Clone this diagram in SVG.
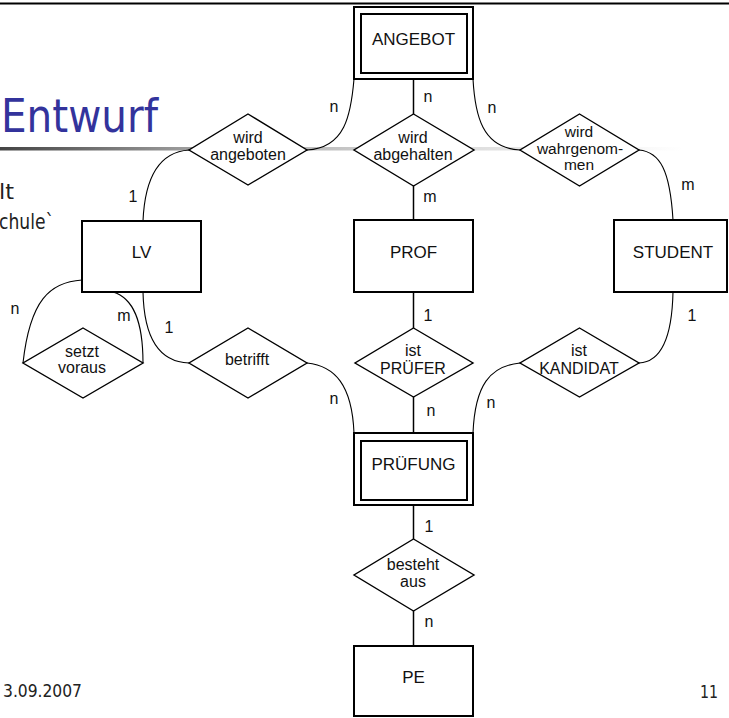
<svg xmlns="http://www.w3.org/2000/svg" width="729" height="718" viewBox="0 0 729 718">
<defs>
<linearGradient id="rule" x1="0" y1="0" x2="683" y2="0" gradientUnits="userSpaceOnUse">
<stop offset="0" stop-color="#444"/>
<stop offset="0.3" stop-color="#a5a5a5"/>
<stop offset="0.6" stop-color="#d4d4d4"/>
<stop offset="1" stop-color="#fff"/>
</linearGradient>
</defs>
<style>
.ent{fill:#fff;stroke:#000;stroke-width:2}
.rel{fill:#fff;stroke:#000;stroke-width:1.4}
.ln{fill:none;stroke:#000;stroke-width:1.5}
.cv{fill:none;stroke:#000;stroke-width:1.1}
.t{font-family:"Liberation Sans",Arial,sans-serif;font-size:17px;fill:#111;text-anchor:middle}
.r{font-family:"Liberation Sans",Arial,sans-serif;font-size:16px;fill:#111;text-anchor:middle}
.lb{font-family:"Liberation Sans",Arial,sans-serif;font-size:16px;fill:#111;text-anchor:middle}
.slide{font-family:"DejaVu Sans Condensed","DejaVu Sans",sans-serif;fill:#222}
</style>
<rect width="729" height="718" fill="#fff"/>
<line x1="0" y1="3.5" x2="729" y2="3.5" stroke="#000" stroke-width="2"/>
<text class="slide" x="1" y="132" font-size="47" style="fill:#33339c" textLength="157" lengthAdjust="spacingAndGlyphs">Entwurf</text>
<rect x="0" y="147" width="683" height="3.5" fill="url(#rule)"/>
<text class="slide" x="-1" y="199" font-size="22" textLength="15" lengthAdjust="spacingAndGlyphs">lt</text>
<text class="slide" x="-1" y="229" font-size="22" textLength="55" lengthAdjust="spacingAndGlyphs">chule`</text>
<text class="slide" x="3" y="697" font-size="17" textLength="79" lengthAdjust="spacingAndGlyphs">3.09.2007</text>
<text class="slide" x="700" y="698" font-size="17" textLength="18" lengthAdjust="spacingAndGlyphs">11</text>

<g id="connectors">
<line class="ln" x1="413.5" y1="79" x2="413.5" y2="114"/>
<line class="ln" x1="413.5" y1="186" x2="413.5" y2="220"/>
<line class="ln" x1="413.5" y1="292" x2="413.5" y2="328"/>
<line class="ln" x1="413.5" y1="397" x2="413.5" y2="433"/>
<line class="ln" x1="413.5" y1="505" x2="413.5" y2="539"/>
<line class="ln" x1="413.5" y1="611" x2="413.5" y2="646"/>
<path class="cv" d="M354,79 C351,115 345,148 307,150"/>
<path class="cv" d="M473,79 C475,115 482,148 520,150"/>
<path class="cv" d="M639,150 C660,152 670,170 673,220"/>
<path class="cv" d="M189,150 C160,152 145,175 143,221"/>
<path class="cv" d="M143,292 C144,340 160,362 189,363"/>
<path class="cv" d="M307,363 C335,366 352,385 354,433"/>
<path class="cv" d="M82,280 C50,282 30,300 23,363"/>
<path class="cv" d="M113,292 C133,298 143,320 143,363"/>
<path class="cv" d="M673,292 C672,340 660,362 639,363"/>
<path class="cv" d="M520,363 C490,366 475,385 473,433"/>
<text class="lb" x="428" y="102">n</text>
<text class="lb" x="430" y="202">m</text>
<text class="lb" x="334" y="112">n</text>
<text class="lb" x="492" y="113">n</text>
<text class="lb" x="688" y="190">m</text>
<text class="lb" x="133" y="202">1</text>
<text class="lb" x="169" y="333">1</text>
<text class="lb" x="15" y="314">n</text>
<text class="lb" x="124" y="321">m</text>
<text class="lb" x="334" y="404">n</text>
<text class="lb" x="428" y="321">1</text>
<text class="lb" x="431" y="416">n</text>
<text class="lb" x="491" y="408">n</text>
<text class="lb" x="692" y="321">1</text>
<text class="lb" x="429" y="532">1</text>
<text class="lb" x="429" y="627">n</text>
</g>

<g id="angebot">
<rect class="ent" x="354" y="7" width="119" height="72"/>
<rect class="ent" x="361" y="14" width="106" height="59"/>
<text class="t" x="413.5" y="45">ANGEBOT</text>
</g>
<g id="wird-angeboten">
<polygon class="rel" points="248,114 307,150 248,185 189,150"/>
<text class="r" x="248" y="143">wird</text>
<text class="r" x="248" y="160">angeboten</text>
</g>
<g id="wird-abgehalten">
<polygon class="rel" points="413.5,114 474,150 413.5,186 354,150"/>
<text class="r" x="413" y="143">wird</text>
<text class="r" x="413" y="160">abgehalten</text>
</g>
<g id="wird-wahrgenommen">
<polygon class="rel" points="579.5,114 639,150 579.5,186 520,150"/>
<text class="r" x="579" y="137" style="font-size:15.5px">wird</text>
<text class="r" x="580" y="154" style="font-size:15.5px">wahrgenom-</text>
<text class="r" x="579" y="170" style="font-size:15.5px">men</text>
</g>
<g id="lv">
<rect class="ent" x="82" y="221" width="119" height="71"/>
<text class="t" x="141.5" y="258">LV</text>
</g>
<g id="prof">
<rect class="ent" x="354" y="220" width="119" height="72"/>
<text class="t" x="413.5" y="258">PROF</text>
</g>
<g id="student">
<rect class="ent" x="614" y="220" width="113" height="72"/>
<text class="t" x="673" y="258">STUDENT</text>
</g>
<g id="setzt-voraus">
<polygon class="rel" points="83,328 143,363 83,398 23,363"/>
<text class="r" x="82" y="357">setzt</text>
<text class="r" x="82" y="373">voraus</text>
</g>
<g id="betrifft">
<polygon class="rel" points="248,328 307,363 248,398 189,363"/>
<text class="r" x="247" y="365">betrifft</text>
</g>
<g id="ist-pruefer">
<polygon class="rel" points="413.5,328 473,363 413.5,397 355,363"/>
<text class="r" x="413" y="356">ist</text>
<text class="r" x="413" y="374">PRÜFER</text>
</g>
<g id="ist-kandidat">
<polygon class="rel" points="579.5,328 639,363 579.5,397 520,363"/>
<text class="r" x="579" y="356">ist</text>
<text class="r" x="579" y="374">KANDIDAT</text>
</g>
<g id="pruefung">
<rect class="ent" x="354" y="433" width="119" height="72"/>
<rect class="ent" x="361" y="441" width="106" height="59"/>
<text class="t" x="413.5" y="470">PRÜFUNG</text>
</g>
<g id="besteht-aus">
<polygon class="rel" points="413.5,539 474,575 413.5,611 354,575"/>
<text class="r" x="413" y="570">besteht</text>
<text class="r" x="413" y="587">aus</text>
</g>
<g id="pe">
<rect class="ent" x="354" y="646" width="119" height="70"/>
<text class="t" x="413.5" y="683">PE</text>
</g>
</svg>
